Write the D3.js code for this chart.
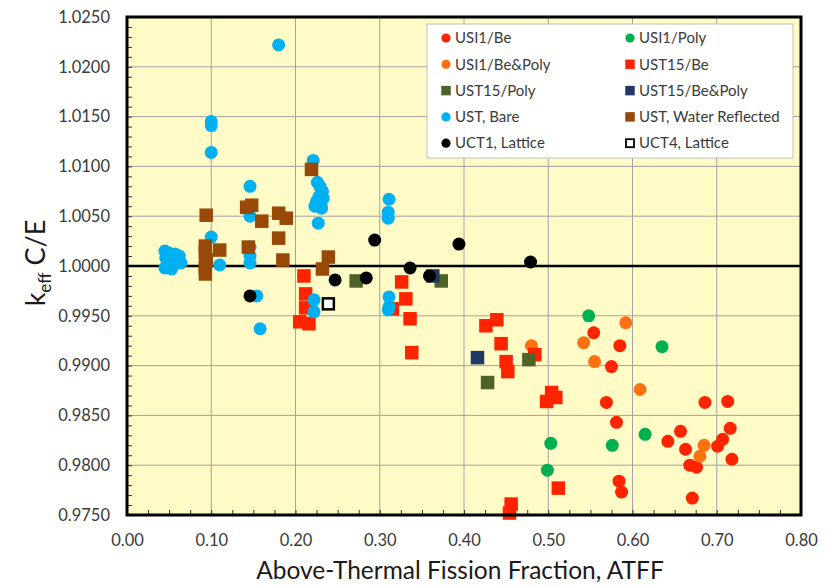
<!DOCTYPE html>
<html>
<head>
<meta charset="utf-8">
<script src="https://cdn.jsdelivr.net/npm/d3@7"></script>
<style>
  body { margin: 0; background: #fff; }
  svg text { font-family: Lato, "Open Sans", sans-serif; }
</style>
</head>
<body>
<div id="chartBox"></div>
<script>
// values: [ATFF, keff C/E]
var usi1Be = [[0.554,0.9933],[0.585,0.9920],[0.575,0.9899],[0.569,0.9863],[0.581,0.9843],[0.584,0.9784],
  [0.587,0.9773],[0.686,0.9863],[0.713,0.9864],[0.716,0.9837],[0.707,0.9826],[0.701,0.9819],[0.718,0.9806],
  [0.657,0.9834],[0.642,0.9824],[0.663,0.9816],[0.668,0.9800],[0.676,0.9798],[0.671,0.9767]];
var usi1Poly = [[0.548,0.9950],[0.635,0.9919],[0.615,0.9831],[0.576,0.9820],[0.503,0.9822],[0.499,0.9795]];
var usi1BePoly = [[0.592,0.9943],[0.542,0.9923],[0.555,0.9904],[0.609,0.9876],[0.685,0.9820],[0.680,0.9809],[0.480,0.9920]];
var ust15Be = [[0.210,0.9990],[0.212,0.9972],[0.212,0.9958],[0.205,0.9944],[0.216,0.9942],
  [0.326,0.9984],[0.331,0.9967],[0.315,0.9957],[0.336,0.9947],[0.338,0.9913],
  [0.426,0.9940],[0.439,0.9946],[0.444,0.9922],[0.450,0.9904],[0.452,0.9894],[0.484,0.9911],
  [0.504,0.9873],[0.509,0.9868],[0.498,0.9864],[0.512,0.9777],[0.456,0.9761],[0.454,0.9752]];
var ust15Poly = [[0.272,0.9985],[0.373,0.9985],[0.477,0.9906],[0.428,0.9883]];
var ust15BePoly = [[0.416,0.9908],[0.363,0.9990]];
var ustBare = [[0.045,1.0015],[0.050,1.0013],[0.057,1.0012],[0.046,1.0008],[0.062,1.0010],[0.051,1.0005],
  [0.060,1.0004],[0.045,0.9998],[0.053,0.9997],[0.064,1.0003],[0.048,1.0002],[0.055,1.0008],
  [0.100,1.0145],[0.100,1.0141],[0.100,1.0114],[0.100,1.0029],[0.110,1.0001],
  [0.146,1.0080],[0.146,1.0050],[0.146,1.0019],[0.146,1.0010],[0.146,1.0003],[0.154,0.9970],[0.158,0.9937],
  [0.180,1.0222],
  [0.221,1.0106],[0.226,1.0084],[0.229,1.0080],[0.232,1.0075],[0.228,1.0070],[0.233,1.0068],[0.225,1.0065],
  [0.230,1.0062],[0.223,1.0060],[0.231,1.0058],[0.227,1.0043],[0.222,0.9966],[0.222,0.9954],
  [0.311,1.0067],[0.310,1.0054],[0.310,1.0048],[0.311,0.9969],[0.311,0.9959],[0.310,0.9956]];
var ustWater = [[0.094,1.0051],[0.093,1.0020],[0.093,1.0013],[0.094,1.0006],[0.093,0.9999],[0.093,0.9992],
  [0.110,1.0016],[0.142,1.0059],[0.148,1.0061],[0.144,1.0019],[0.160,1.0045],
  [0.180,1.0053],[0.189,1.0048],[0.180,1.0028],[0.185,1.0006],[0.219,1.0097],[0.239,1.0009],[0.232,0.9997]];
var uct1 = [[0.146,0.9970],[0.247,0.9986],[0.284,0.9988],[0.294,1.0026],[0.336,0.9998],[0.359,0.9990],[0.394,1.0022],[0.479,1.0004]];
var uct4 = [[0.239,0.9962]];

var xTicks = [0, 0.1, 0.2, 0.3, 0.4, 0.5, 0.6, 0.7, 0.8];
var yTicks = [0.975, 0.98, 0.985, 0.99, 0.995, 1.0, 1.005, 1.01, 1.015, 1.02, 1.025];

var series = [
  {name: 'USI1/Be', data: usi1Be, shape: 'circle', fill: '#FF2400'},
  {name: 'USI1/Poly', data: usi1Poly, shape: 'circle', fill: '#00B050'},
  {name: 'USI1/Be&Poly', data: usi1BePoly, shape: 'circle', fill: '#FF7010'},
  {name: 'UST15/Be', data: ust15Be, shape: 'square', fill: '#FF2400'},
  {name: 'UST15/Poly', data: ust15Poly, shape: 'square', fill: '#4F6228'},
  {name: 'UST15/Be&Poly', data: ust15BePoly, shape: 'square', fill: '#1F3864'},
  {name: 'UST, Bare', data: ustBare, shape: 'circle', fill: '#00B0F0'},
  {name: 'UST, Water Reflected', data: ustWater, shape: 'square', fill: '#984807'},
  {name: 'UCT1, Lattice', data: uct1, shape: 'circle', fill: '#000000'},
  {name: 'UCT4, Lattice', data: uct4, shape: 'square', fill: '#FFFFFF', stroke: '#000'}
];

var W = 835, H = 587;
var plotL = 127, plotR = 801, plotT = 17, plotB = 515;

var x = d3.scaleLinear().domain([0, 0.8]).range([plotL, plotR]);
var y = d3.scaleLinear().domain([0.975, 1.025]).range([plotB, plotT]);

var svg = d3.select('#chartBox').append('svg')
  .attr('width', W)
  .attr('height', H);

svg.append('rect')
  .attr('x', plotL).attr('y', plotT)
  .attr('width', plotR - plotL).attr('height', plotB - plotT)
  .attr('fill', '#FFFBC6');

// grid
svg.append('g').selectAll('line')
  .data(xTicks.slice(1, -1))
  .enter().append('line')
  .attr('x1', d => x(d)).attr('x2', d => x(d))
  .attr('y1', plotT).attr('y2', plotB)
  .attr('stroke', '#A3A3A3').attr('stroke-width', 1);
svg.append('g').selectAll('line')
  .data(yTicks.slice(1, -1))
  .enter().append('line')
  .attr('x1', plotL).attr('x2', plotR)
  .attr('y1', d => y(d)).attr('y2', d => y(d))
  .attr('stroke', '#A3A3A3').attr('stroke-width', 1);

// minor ticks, inside
var xMinor = d3.range(0, 33).map(i => i * 0.025);
var yMinor = d3.range(0, 51).map(i => 0.975 + i * 0.001);
svg.append('g').call(d3.axisBottom(x).tickValues(xMinor).tickSize(-5).tickFormat(''))
  .attr('transform', 'translate(0,' + plotB + ')')
  .call(g => g.select('.domain').remove())
  .selectAll('line').attr('stroke', '#333');
svg.append('g').call(d3.axisLeft(y).tickValues(yMinor).tickSize(-5).tickFormat(''))
  .attr('transform', 'translate(' + plotL + ',0)')
  .call(g => g.select('.domain').remove())
  .selectAll('line').attr('stroke', '#333');

// tick labels
var xAxis = svg.append('g')
  .attr('transform', 'translate(0,' + plotB + ')')
  .call(d3.axisBottom(x).tickValues(xTicks).tickSize(0).tickPadding(19).tickFormat(d3.format('.2f')));
xAxis.select('.domain').remove();
xAxis.selectAll('text').attr('font-size', 16.5).attr('fill', '#3A3A3A')
  .style('font-family', 'Lato, sans-serif');

var yAxis = svg.append('g')
  .attr('transform', 'translate(' + plotL + ',0)')
  .call(d3.axisLeft(y).tickValues(yTicks).tickSize(0).tickPadding(17).tickFormat(d3.format('.4f')));
yAxis.select('.domain').remove();
yAxis.selectAll('text').attr('font-size', 16.5).attr('fill', '#3A3A3A')
  .style('font-family', 'Lato, sans-serif');

// reference line at 1.0
svg.append('line')
  .attr('x1', plotL).attr('x2', plotR)
  .attr('y1', y(1)).attr('y2', y(1))
  .attr('stroke', '#000').attr('stroke-width', 2.5);

// points
var marks = svg.append('g');
series.forEach(function(s) {
  var g = marks.append('g');
  if (s.shape == 'circle') {
    g.selectAll('circle').data(s.data).enter().append('circle')
      .attr('cx', d => x(d[0])).attr('cy', d => y(d[1]))
      .attr('r', 6.5)
      .attr('fill', s.fill);
  } else {
    var sz = s.stroke ? 11 : 13.5;
    g.selectAll('rect').data(s.data).enter().append('rect')
      .attr('x', d => x(d[0]) - sz / 2).attr('y', d => y(d[1]) - sz / 2)
      .attr('width', sz).attr('height', sz)
      .attr('fill', s.fill)
      .attr('stroke', s.stroke || 'none')
      .attr('stroke-width', s.stroke ? 2.5 : 0);
  }
});

// frame
svg.append('rect')
  .attr('x', plotL).attr('y', plotT)
  .attr('width', plotR - plotL).attr('height', plotB - plotT)
  .attr('fill', 'none')
  .attr('stroke', '#000').attr('stroke-width', 3);

// legend
var legend = svg.append('g');
legend.append('rect')
  .attr('x', 427).attr('y', 24)
  .attr('width', 366).attr('height', 134)
  .attr('fill', '#fff').attr('stroke', '#BFBFBF').attr('stroke-width', 1);

series.forEach(function(s, i) {
  var col = i % 2, row = Math.floor(i / 2);
  var mx = col == 0 ? 446 : 630;
  var my = 38 + row * 26.3;
  if (s.shape == 'circle') {
    legend.append('circle').attr('cx', mx).attr('cy', my).attr('r', 4.6).attr('fill', s.fill);
  } else {
    var sz = s.stroke ? 8 : 9.5;
    legend.append('rect')
      .attr('x', mx - sz / 2).attr('y', my - sz / 2)
      .attr('width', sz).attr('height', sz)
      .attr('fill', s.fill)
      .attr('stroke', s.stroke || 'none')
      .attr('stroke-width', s.stroke ? 1.8 : 0);
  }
  legend.append('text')
    .text(s.name)
    .attr('x', mx + 9).attr('y', my)
    .attr('dy', '0.35em')
    .attr('font-size', 15)
    .attr('fill', '#3A3A3A');
});

// axis titles
svg.append('text')
  .text('Above-Thermal Fission Fraction, ATFF')
  .attr('x', 460).attr('y', 579)
  .attr('text-anchor', 'middle')
  .attr('font-size', 24.5)
  .attr('fill', '#1a1a1a');

var yt = svg.append('text')
  .attr('transform', 'translate(45,' + 263 + ') rotate(-90)')
  .attr('text-anchor', 'middle')
  .attr('fill', '#1a1a1a');
yt.append('tspan').text('k').attr('font-size', 27);
yt.append('tspan').text('eff').attr('font-size', 17).attr('dy', 6);
yt.append('tspan').text(' C/E').attr('font-size', 27).attr('dy', -6);
</script>
</body>
</html>
